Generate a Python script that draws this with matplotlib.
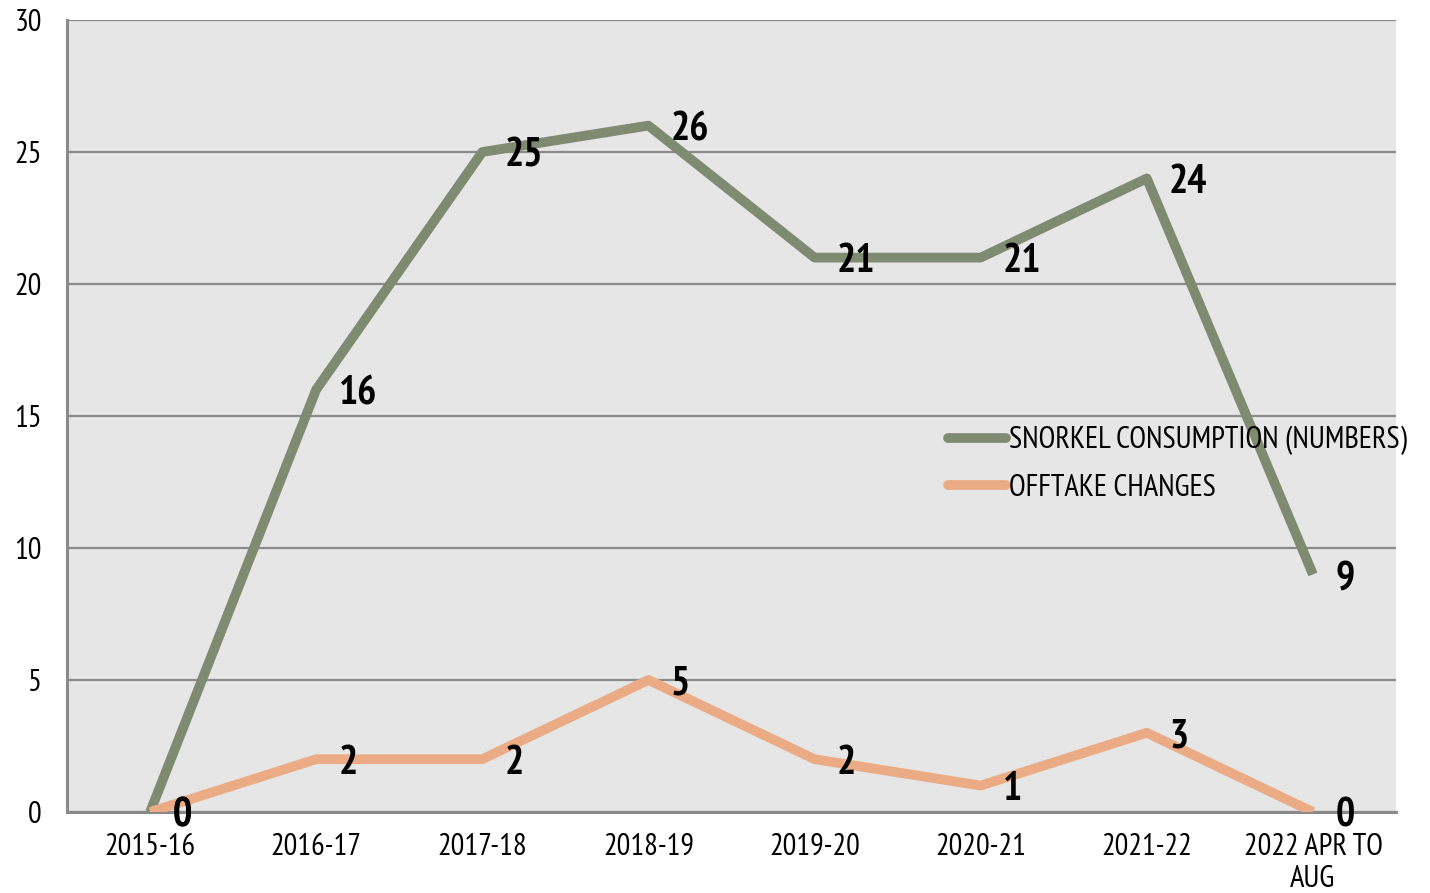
import matplotlib
matplotlib.use("Agg")
import matplotlib.pyplot as plt
from matplotlib import font_manager

categories = ["2015-16", "2016-17", "2017-18", "2018-19", "2019-20", "2020-21", "2021-22", "2022 APR TO\nAUG"]
snorkel = [0, 16, 25, 26, 21, 21, 24, 9]
offtake = [0, 2, 2, 5, 2, 1, 3, 0]
yticks = [0, 5, 10, 15, 20, 25, 30]

names = {f.name for f in font_manager.fontManager.ttflist}
prefs = ['Liberation Sans Narrow', 'Arial Narrow', 'PT Sans Narrow', 'Roboto Condensed',
         'Archivo Narrow', 'Asap Condensed', 'Liberation Sans']
narrow = next(p for p in prefs if p in names)
plt.rcParams['font.family'] = [narrow, 'DejaVu Sans']

GREEN = "#7f8b71"
ORANGE = "#ebab84"
GRID = "#8a8a8a"
FS = 22

fig = plt.figure(figsize=(14.3, 8.93), dpi=100)
ax = fig.add_axes([67/1430, 1-812/893, (1396-67)/1430, (812-20)/893])
ax.set_facecolor("#e6e6e6")

x = list(range(len(categories)))
ax.plot(x, snorkel, color=GREEN, lw=7, solid_capstyle='butt', solid_joinstyle='round',
        label="SNORKEL CONSUMPTION (NUMBERS)", zorder=3)
ax.plot(x, offtake, color=ORANGE, lw=7, solid_capstyle='butt', solid_joinstyle='round',
        label="OFFTAKE CHANGES", zorder=3)

for series in (snorkel, offtake):
    for xi, v in zip(x, series):
        ax.annotate(str(v), (xi, v), xytext=(16, -3), textcoords='offset points',
                    ha='left', va='center', fontsize=29, fontweight='bold', zorder=5)

ax.set_xlim(-0.5, len(categories) - 0.5)
ax.set_ylim(0, 30)
ax.set_yticks(yticks)
ax.set_xticks(x)
ax.set_xticklabels(categories, linespacing=1.2)
ax.tick_params(axis='both', length=0, labelsize=FS)
ax.tick_params(axis='y', pad=18)
ax.tick_params(axis='x', pad=15)
ax.grid(axis='y', color=GRID, lw=1.6, zorder=1)
ax.set_axisbelow(True)
for s in ['right', 'top']:
    ax.spines[s].set_visible(False)
for s in ['left', 'bottom']:
    ax.spines[s].set_color(GRID)
    ax.spines[s].set_linewidth(2.2)

leg = ax.legend(loc='center left', bbox_to_anchor=(948/1430, 1-464/893), bbox_transform=fig.transFigure,
                frameon=False, fontsize=FS, handlelength=1.9, handletextpad=0.1, labelspacing=0.62,
                borderaxespad=0, borderpad=0)
for h in leg.get_lines():
    h.set_solid_capstyle('round')
    h.set_linewidth(7)

fig.savefig("out.png", dpi=100)
